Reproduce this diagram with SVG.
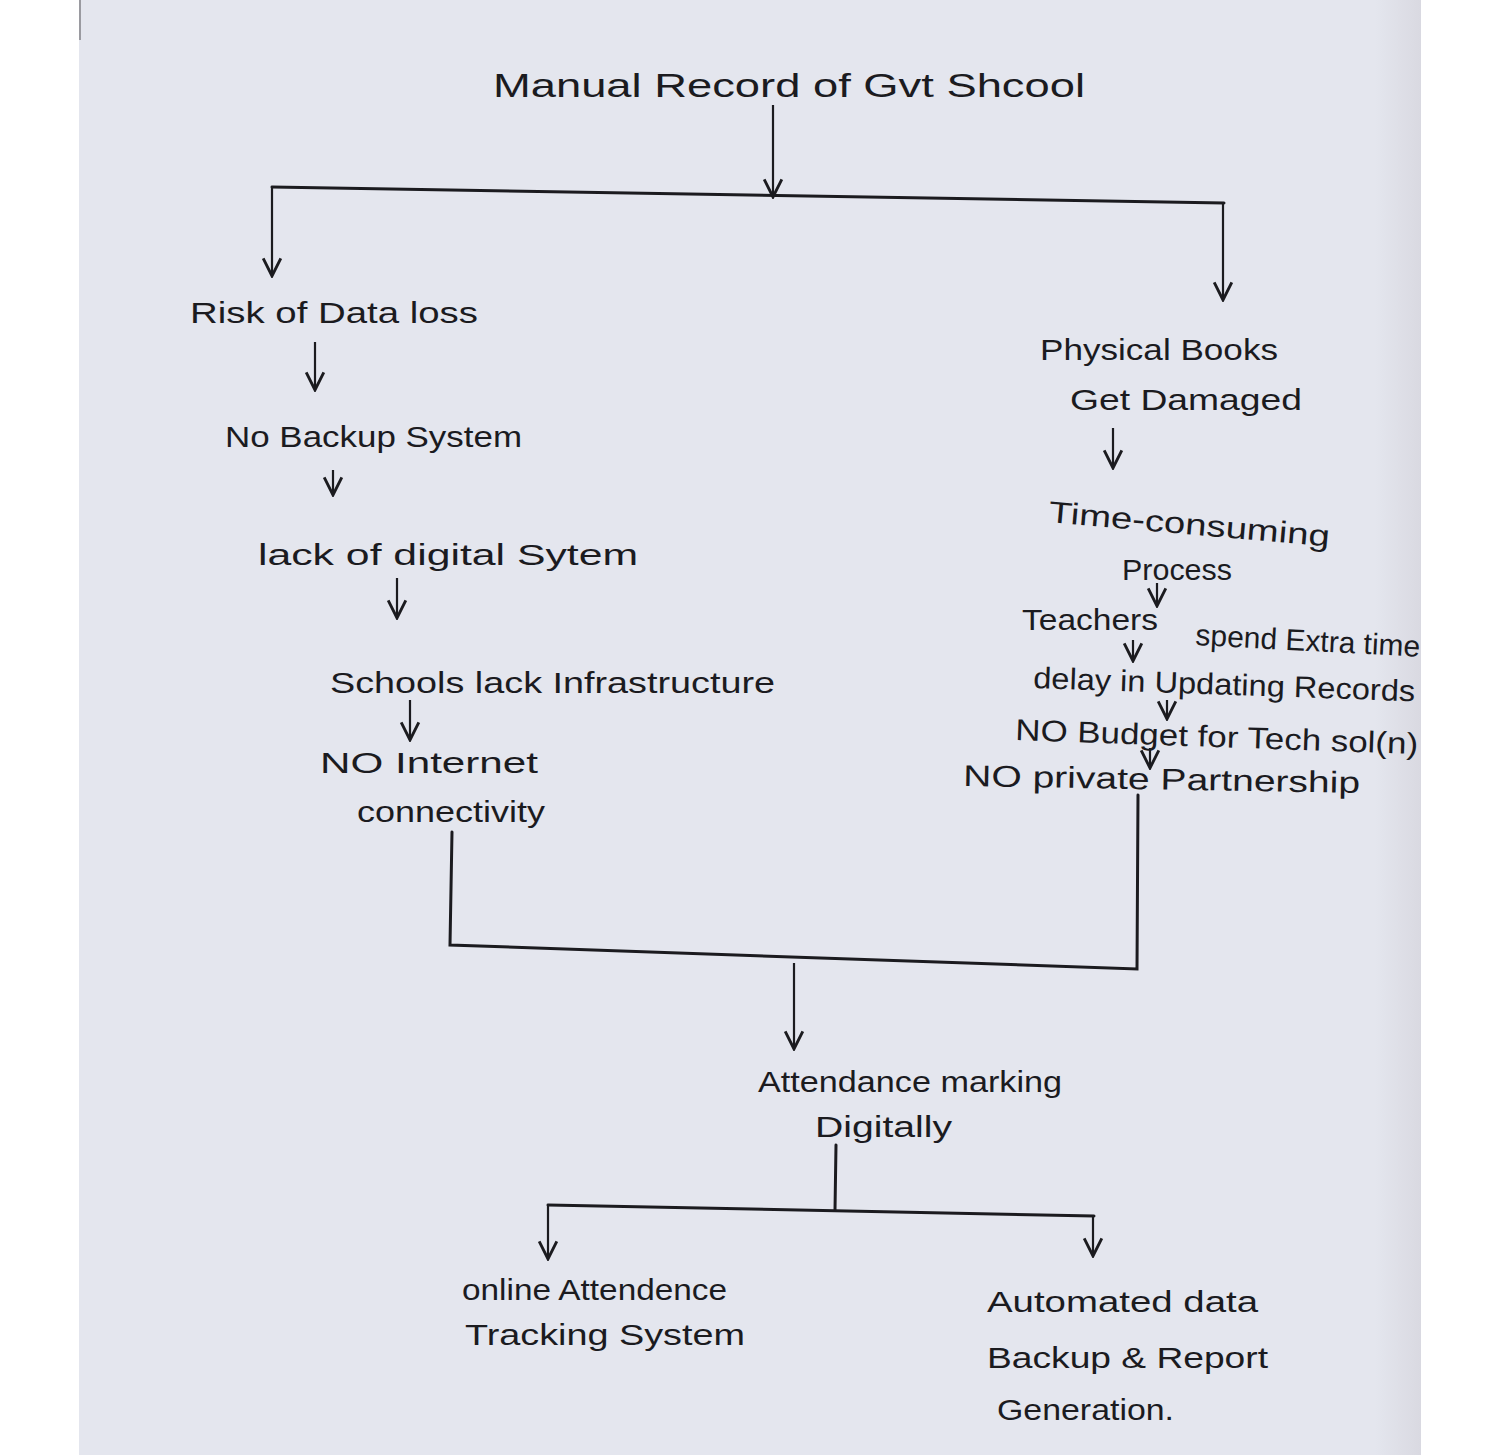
<svg xmlns="http://www.w3.org/2000/svg" width="1500" height="1455" viewBox="0 0 1500 1455">
<defs>
<linearGradient id="edge" x1="0" x2="1" y1="0" y2="0">
<stop offset="0" stop-color="#e4e6ee"/>
<stop offset="1" stop-color="#d9d9e1"/>
</linearGradient>
<marker id="ah" viewBox="0 0 10 10" refX="9" refY="5" markerWidth="22" markerHeight="22" markerUnits="userSpaceOnUse" orient="auto">
<path d="M1,1 L9,5 L1,9" fill="none" stroke="#1b1b1f" stroke-width="1.3"/>
</marker>
</defs>
<style>
text{font-family:"Liberation Sans","DejaVu Sans",sans-serif;font-size:30px;fill:#1b1b1f;}
.t{font-size:34px;}
.c{fill:none;stroke:#1b1b1f;stroke-width:3;stroke-linecap:round;}
.a{fill:none;stroke:#1b1b1f;stroke-width:2.2;marker-end:url(#ah);}
</style>
<rect x="0" y="0" width="1500" height="1455" fill="#ffffff"/>
<rect x="79" y="0" width="1342" height="1455" fill="#e4e6ee"/>
<rect x="1375" y="0" width="46" height="1455" fill="url(#edge)"/>
<line x1="80" y1="0" x2="80" y2="40" stroke="#9a9aa0" stroke-width="2"/>

<g id="connectors">
<line class="a" x1="773" y1="105" x2="773" y2="197"/>
<polyline class="c" points="272,187 1224,203"/>
<line class="a" x1="272" y1="187" x2="272" y2="276"/>
<line class="a" x1="1223" y1="203" x2="1223" y2="300"/>
<line class="a" x1="315" y1="342" x2="315" y2="390"/>
<line class="a" x1="333" y1="470" x2="333" y2="495"/>
<line class="a" x1="397" y1="578" x2="397" y2="618"/>
<line class="a" x1="410" y1="700" x2="410" y2="740"/>
<line class="a" x1="1113" y1="428" x2="1113" y2="468"/>
<line class="a" x1="1157" y1="583" x2="1157" y2="606"/>
<line class="a" x1="1133" y1="640" x2="1133" y2="661"/>
<line class="a" x1="1167" y1="700" x2="1167" y2="719"/>
<line class="a" x1="1150" y1="748" x2="1150" y2="768"/>
<polyline class="c" points="452,832 450,945 1137,969 1138,795"/>
<line class="a" x1="794" y1="963" x2="794" y2="1049"/>
<line class="c" x1="836" y1="1145" x2="835" y2="1210"/>
<polyline class="c" points="548,1205 1094,1216"/>
<line class="a" x1="548" y1="1205" x2="548" y2="1259"/>
<line class="a" x1="1093" y1="1216" x2="1093" y2="1256"/>
</g>

<g id="n-title"><text class="t" x="493" y="97" textLength="592" lengthAdjust="spacingAndGlyphs">Manual Record of Gvt Shcool</text></g>
<g id="n-risk"><text x="190" y="323" textLength="288" lengthAdjust="spacingAndGlyphs">Risk of Data loss</text></g>
<g id="n-backup"><text x="225" y="447" textLength="297" lengthAdjust="spacingAndGlyphs">No Backup System</text></g>
<g id="n-lack"><text x="258" y="565" textLength="380" lengthAdjust="spacingAndGlyphs">lack of digital Sytem</text></g>
<g id="n-infra"><text x="330" y="693" textLength="445" lengthAdjust="spacingAndGlyphs">Schools lack Infrastructure</text></g>
<g id="n-internet">
<text x="320" y="773" textLength="218" lengthAdjust="spacingAndGlyphs">NO Internet</text>
<text x="357" y="822" textLength="188" lengthAdjust="spacingAndGlyphs">connectivity</text>
</g>
<g id="n-books">
<text x="1040" y="360" textLength="238" lengthAdjust="spacingAndGlyphs">Physical Books</text>
<text x="1070" y="410" textLength="232" lengthAdjust="spacingAndGlyphs">Get Damaged</text>
</g>
<g id="n-time">
<text x="1048" y="522" textLength="282" lengthAdjust="spacingAndGlyphs" transform="rotate(5 1048 522)">Time-consuming</text>
<text x="1122" y="580" textLength="110" lengthAdjust="spacingAndGlyphs">Process</text>
</g>
<g id="n-teachers">
<text x="1022" y="630" textLength="136" lengthAdjust="spacingAndGlyphs">Teachers</text>
<text x="1195" y="645" textLength="225" lengthAdjust="spacingAndGlyphs" transform="rotate(3 1195 645)">spend Extra time</text>
</g>
<g id="n-delay"><text x="1033" y="688" textLength="382" lengthAdjust="spacingAndGlyphs" transform="rotate(2 1033 688)">delay in Updating Records</text></g>
<g id="n-budget"><text x="1015" y="740" textLength="403" lengthAdjust="spacingAndGlyphs" transform="rotate(2 1015 740)">NO Budget for Tech sol(n)</text></g>
<g id="n-private"><text x="963" y="786" textLength="397" lengthAdjust="spacingAndGlyphs" transform="rotate(1 963 786)">NO private Partnership</text></g>
<g id="n-attendance">
<text x="758" y="1092" textLength="304" lengthAdjust="spacingAndGlyphs">Attendance marking</text>
<text x="815" y="1137" textLength="137" lengthAdjust="spacingAndGlyphs">Digitally</text>
</g>
<g id="n-online">
<text x="462" y="1300" textLength="265" lengthAdjust="spacingAndGlyphs">online Attendence</text>
<text x="465" y="1345" textLength="280" lengthAdjust="spacingAndGlyphs">Tracking System</text>
</g>
<g id="n-automated">
<text x="987" y="1312" textLength="271" lengthAdjust="spacingAndGlyphs">Automated data</text>
<text x="987" y="1368" textLength="281" lengthAdjust="spacingAndGlyphs">Backup &amp; Report</text>
<text x="997" y="1420" textLength="177" lengthAdjust="spacingAndGlyphs">Generation.</text>
</g>
</svg>
